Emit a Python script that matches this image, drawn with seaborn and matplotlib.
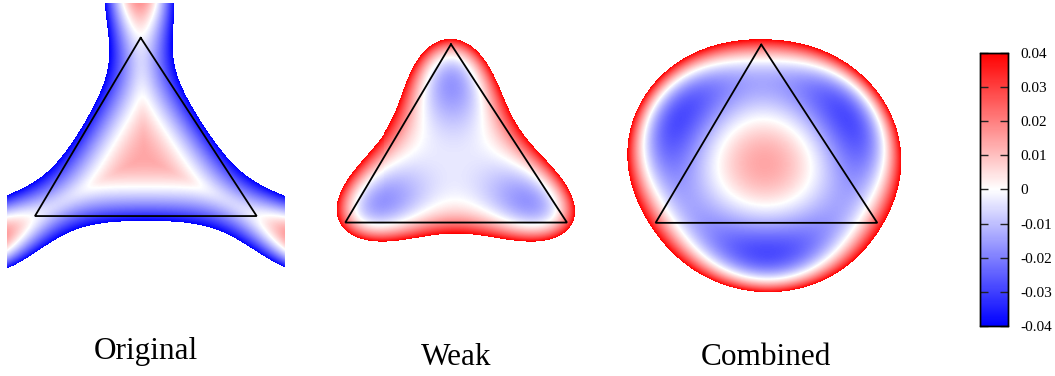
import numpy as np
import matplotlib
matplotlib.use("Agg")
import matplotlib.pyplot as plt
import seaborn as sns
from numpy.polynomial import polynomial as P

W_PX, H_PX, DPI = 1055, 376, 100

panel_titles = ["Original", "Weak", "Combined"]
value_range = [-0.04, 0.04]
cbar_ticks = [-0.04, -0.03, -0.02, -0.01, 0.0, 0.01, 0.02, 0.03, 0.04]
cbar_tick_labels = ["-0.04", "-0.03", "-0.02", "-0.01", "0",
                    "0.01", "0.02", "0.03", "0.04"]

# equilateral reference triangle (circumradius 1, apex up)
tri_x = [0.0, -np.sqrt(3) / 2, np.sqrt(3) / 2, 0.0]
tri_y = [1.0, -0.5, -0.5, 1.0]

# Original: triangular core (centre value, zero level, exponent, smoothing order)
orig_core = [0.014, 0.25, 1.8, 8]
# profile along the vertex rays (centre value, squared zero radii, taper)
orig_ray_centre = 0.014
orig_ray_zero_sq = [0.25, 1.061]
orig_ray_taper = -0.375
orig_arm_width = 0.62

# Weak: mean profile and three-fold amplitude (polynomial coefficients, r^0 first)
weak_mean = [-0.0035, 0.0, -0.0224, 0.0, 0.187]
weak_threefold = [0.0, 0.0, 0.0, -0.135]

# Combined: mean profile (centre value, squared zero radii, bump) and three-fold amplitude
comb_centre = 0.014
comb_zero_sq = [0.13, 0.86]
comb_bump = [0.6, 1.3]
comb_threefold = [0.0, 0.0, 0.0, 0.0, 0.0475, 0.0, -0.0375]

# slight horizontal shear of the rendered frames
shear = -0.0268
px_per_unit = (128.0, 118.9)
centre_px = [(144.1, 156.6), (454.4, 163.1), (764.7, 163.4)]
xlims = [(-1.071, 1.101), (-1.10, 1.10), (-1.20, 1.20)]
ylims = [(-0.954, 1.292), (-0.95, 1.20), (-1.20, 1.25)]
title_baseline_px = [359.3, 365.0, 365.0]

edge_normals = [(np.cos(a), np.sin(a)) for a in np.deg2rad([30, 150, 270])]


def polar(xt, y):
    r = np.hypot(xt, y)
    th = np.arctan2(y, xt)
    c3 = -np.sin(3 * th)                      # cos(3 * angle to nearest vertex ray)
    ph = (th - np.pi / 2 + np.pi / 3) % (2 * np.pi / 3) - np.pi / 3
    return r, c3, np.abs(np.sin(ph))


def tri_norm(xt, y, q):
    acc = 0.0
    for nx_, ny_ in edge_normals:
        acc = acc + np.clip(nx_ * xt + ny_ * y, 0, None) ** q
    return acc ** (1.0 / q)


def field_original(xt, y):
    c0, d0, p, q = orig_core
    core = lambda d: c0 * (1 - (d / d0) ** p)
    r, _, sphi = polar(xt, y)
    s = r ** 2
    ray = orig_ray_centre * (1 - s / orig_ray_zero_sq[0]) * (1 - s / orig_ray_zero_sq[1]) \
        * (1 + orig_ray_taper * s)
    d_ray = 2 ** (1.0 / q) * r / 2
    arm = np.exp(-((r * sphi) / orig_arm_width) ** 2)
    return core(tri_norm(xt, y, q)) + (ray - core(d_ray)) * arm


def field_weak(xt, y):
    r, c3, _ = polar(xt, y)
    return P.polyval(r, weak_mean) + P.polyval(r, weak_threefold) * c3


def field_combined(xt, y):
    r, c3, _ = polar(xt, y)
    s = r ** 2
    a = comb_centre * (1 - s / comb_zero_sq[0]) * (1 - s / comb_zero_sq[1]) \
        * (1 + comb_bump[0] * s * np.clip(comb_bump[1] - s, 0, None))
    return a + P.polyval(r, comb_threefold) * c3


fields = [field_original, field_weak, field_combined]

sns.set_theme(style="ticks")
plt.rcParams["font.family"] = ["Liberation Serif", "DejaVu Serif"]

fig = plt.figure(figsize=(W_PX / DPI, H_PX / DPI), dpi=DPI)
cax = fig.add_axes([980 / W_PX, 1 - 326 / H_PX, 28 / W_PX, (326 - 52.7) / H_PX])

for i, fn in enumerate(fields):
    cx, cy = centre_px[i]
    (x_lo, x_hi), (y_lo, y_hi) = xlims[i], ylims[i]
    sx, sy = px_per_unit
    left, right = cx + x_lo * sx, cx + x_hi * sx
    top, bottom = cy - y_hi * sy, cy - y_lo * sy
    ax = fig.add_axes([left / W_PX, 1 - bottom / H_PX,
                       (right - left) / W_PX, (bottom - top) / H_PX])

    nx = int(round((x_hi - x_lo) * sx))
    ny = int(round((y_hi - y_lo) * sy))
    dx, dy = (x_hi - x_lo) / nx, (y_hi - y_lo) / ny
    xd = x_lo + (np.arange(nx) + 0.5) * dx
    yd = y_hi - (np.arange(ny) + 0.5) * dy
    XD, Y = np.meshgrid(xd, yd)
    F = fn(XD - shear * Y, Y)
    mask = (F < value_range[0]) | (F > value_range[1])

    sns.heatmap(F, mask=mask, cmap="bwr", vmin=value_range[0], vmax=value_range[1],
                cbar=(i == 0), cbar_ax=cax if i == 0 else None,
                cbar_kws={"ticks": cbar_ticks} if i == 0 else None,
                xticklabels=False, yticklabels=False, ax=ax, rasterized=True)

    tx = np.asarray(tri_x) + shear * np.asarray(tri_y)
    ty = np.asarray(tri_y)
    ax.plot((tx - x_lo) / dx, (y_hi - ty) / dy, color="black", lw=1.3,
            solid_joinstyle="miter")
    ax.set_xlim(0, nx)
    ax.set_ylim(ny, 0)
    ax.axis("off")

    base_x = cx + shear * (-0.5) * sx
    fig.text(base_x / W_PX, 1 - title_baseline_px[i] / H_PX, panel_titles[i],
             ha="center", va="baseline", fontsize=22.5, color="black")

cax.set_axisbelow(False)
cax.set_yticks(cbar_ticks)
cax.set_yticklabels(cbar_tick_labels)
cax.tick_params(axis="y", which="major", direction="in", length=6, width=1,
                color="#222222", labelcolor="black",
                left=True, right=True, labelleft=False, labelright=True,
                labelsize=11, pad=9)
cax.tick_params(axis="y", which="minor", left=False, right=False)
for sp in cax.spines.values():
    sp.set_visible(True)
    sp.set_color("black")
    sp.set_linewidth(1)
    sp.set_zorder(5)
for lab in cax.get_yticklabels():
    lab.set_horizontalalignment("left")

fig.savefig("out.png", dpi=DPI, facecolor="white")
